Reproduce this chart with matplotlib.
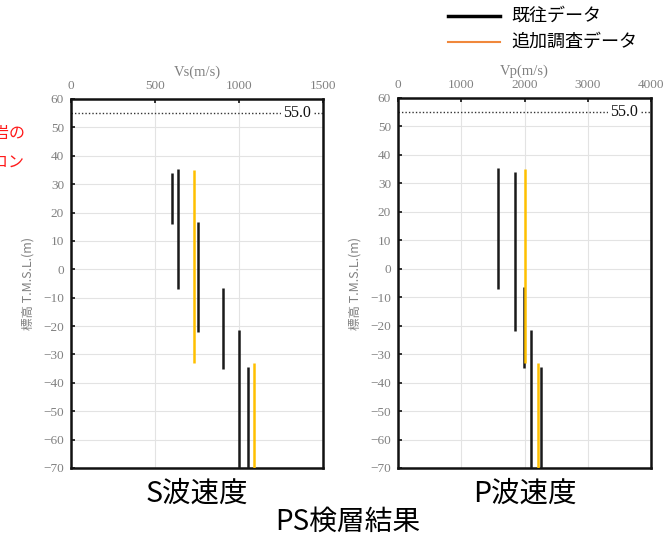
import numpy as np
import matplotlib as mpl
from matplotlib import pyplot as plt

plt.rcParams['font.family'] = ['Noto Sans CJK JP', 'DejaVu Sans']

# S波速度 (Vs) : 速度, 上端, 下端, 種別(0=既往, 1=追加調査)
vs_v   = [600, 635, 755, 905, 1000, 1055, 735, 1090]
vs_top = [34, 35.5, 16.5, -6.5, -21.5, -34.5, 35, -33]
vs_bot = [16, -7, -22, -35, -70, -70, -33, -70]
vs_kind = [0, 0, 0, 0, 0, 0, 1, 1]

# P波速度 (Vp)
vp_v   = [1580, 1850, 1990, 2100, 2255, 2005, 2210]
vp_top = [35.5, 34, -6.5, -21.5, -34.5, 35, -33]
vp_bot = [-7, -22, -35, -70, -70, -33, -70]
vp_kind = [0, 0, 0, 0, 0, 1, 1]

yticks = np.arange(-70, 61, 10)
gl_level = 55.0

c_old = "#1a1a1a"
c_new = "#FFC000"
c_leg_new = "#F0883C"
c_tick = "#808080"

fig = plt.figure(figsize=(6.66, 5.39), dpi=100)
W, H = 666, 539

def make_ax(x0, x1, y0, y1):
    return fig.add_axes([x0/W, 1-y1/H, (x1-x0)/W, (y1-y0)/H])

panels = [
    (make_ax(71, 323, 99, 468), vs_v, vs_top, vs_bot, vs_kind, 1500, [0, 500, 1000, 1500], "Vs(m/s)", "S波速度"),
    (make_ax(398, 651, 98, 468), vp_v, vp_top, vp_bot, vp_kind, 4000, [0, 1000, 2000, 3000, 4000], "Vp(m/s)", "P波速度"),
]

for ax, v, top, bot, kind, xmax, xt, xlab, title in panels:
    ax.set_xlim(0, xmax)
    ax.set_ylim(-70, 60)
    ax.set_xticks(xt)
    ax.set_yticks(yticks)
    ax.xaxis.tick_top()
    ax.xaxis.set_label_position("top")
    ax.grid(True, color="#e3e3e3", linewidth=0.8, zorder=0)
    ax.set_axisbelow(True)
    for s in ax.spines.values():
        s.set_linewidth(1.8)
        s.set_color("#111111")
    ax.tick_params(direction="in", length=3, width=1.2, colors="#111111",
                   labelcolor=c_tick, labelsize=9.5, pad=5)
    for lab in ax.get_xticklabels() + ax.get_yticklabels():
        lab.set_family("Liberation Serif")
    ax.set_xlabel(xlab, color=c_tick, fontsize=10.5, family="Liberation Serif", labelpad=3)
    ax.set_ylabel("標高 T.M.S.L.(m)", color=c_tick, fontsize=9, labelpad=6)

    # 既往 first, 追加調査 on top
    for k, col in [(0, c_old), (1, c_new)]:
        xs = [a for a, kk in zip(v, kind) if kk == k]
        ts = [a for a, kk in zip(top, kind) if kk == k]
        bs = [a for a, kk in zip(bot, kind) if kk == k]
        ax.vlines(xs, bs, ts, colors=col, linewidth=1.8, zorder=3)

    ax.axhline(gl_level, color="#333333", linestyle=(0, (1, 1.5)), linewidth=1.0, zorder=2)
    ax.text(0.895*xmax, gl_level, "%.1f" % gl_level, ha="center", va="center", fontsize=11.5,
            family="Liberation Serif", color="#111111", zorder=4,
            bbox=dict(facecolor="white", edgecolor="none", pad=1.5))

    pos = ax.get_position()
    fig.text((pos.x0 + pos.x1)/2, 1-494/H, title, ha="center", va="center", fontsize=20.5)

fig.text(348/W, 1-522/H, "PS検層結果", ha="center", va="center", fontsize=20)

# 凡例
fig.add_artist(mpl.lines.Line2D([448/W, 500/W], [1-16/H, 1-16/H], color="black", linewidth=2.5))
fig.add_artist(mpl.lines.Line2D([448/W, 500/W], [1-42/H, 1-42/H], color=c_leg_new, linewidth=1.5))
fig.text(511/W, 1-16/H, "既往データ", ha="left", va="center", fontsize=13)
fig.text(511/W, 1-42/H, "追加調査データ", ha="left", va="center", fontsize=13)

# 左端の注記 (参照図でも左端で切れている)
fig.text(25/W, 1-133/H, "泥岩の", ha="right", va="center", fontsize=11.5, color="#FF1A1A")
fig.text(24/W, 1-162/H, "シロン", ha="right", va="center", fontsize=11.5, color="#FF1A1A")

fig.savefig("out.png", dpi=100)
plt.close()
